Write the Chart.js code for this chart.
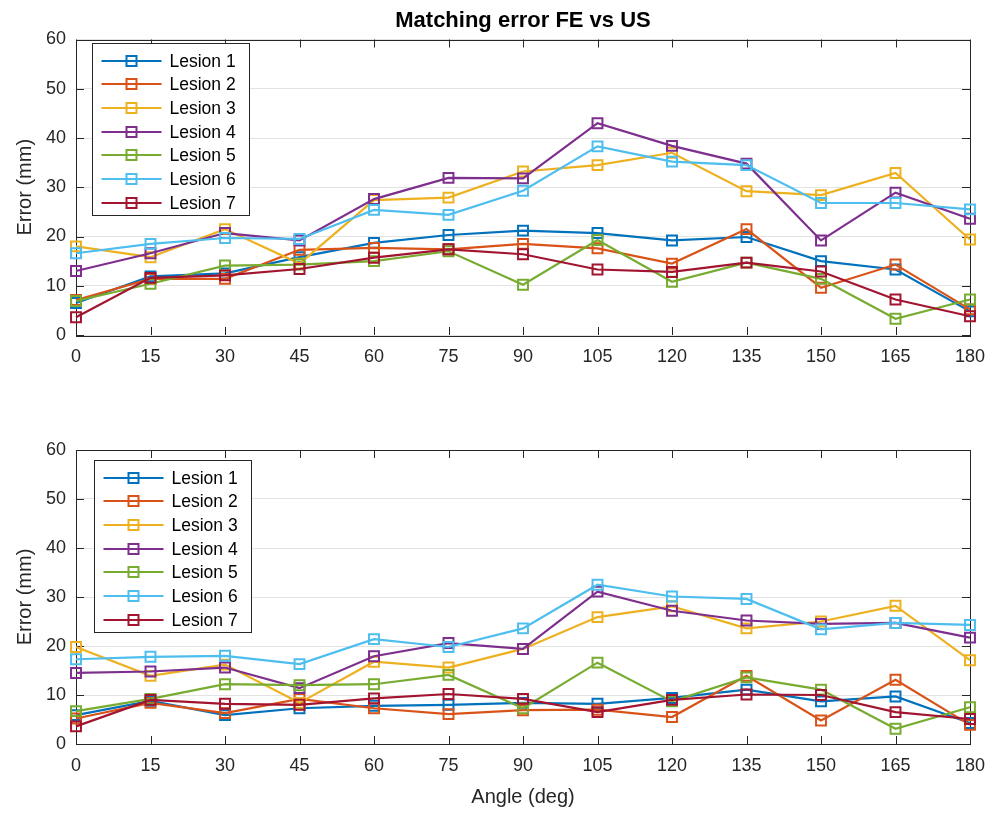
<!DOCTYPE html>
<html>
<head>
<meta charset="utf-8">
<script src="https://cdn.jsdelivr.net/npm/chart.js@4.4.0/dist/chart.umd.min.js"></script>
<style>
  html, body { margin: 0; padding: 0; background: #fff; }
  body { width: 1002px; height: 813px; position: relative; overflow: hidden; }
  .wrap { position: absolute; left: 0; width: 1002px; }
  #topWrap { top: 0; height: 380px; }
  #botWrap { top: 400px; height: 413px; }
</style>
</head>
<body>
<div class="wrap" id="topWrap"><canvas id="chartFE" width="1002" height="380"></canvas></div>
<div class="wrap" id="botWrap"><canvas id="chartUS" width="1002" height="413"></canvas></div>
<script>
// angles (deg)
const angles = [0, 15, 30, 45, 60, 75, 90, 105, 120, 135, 150, 165, 180];
const lesionNames = ['Lesion 1', 'Lesion 2', 'Lesion 3', 'Lesion 4', 'Lesion 5', 'Lesion 6', 'Lesion 7'];
const lesionColors = ['#0072BD', '#D95319', '#EDB120', '#7E2F8E', '#77AC30', '#4DBEEE', '#A2142F'];

// top panel: matching error FE vs US (mm)
const topL1 = [6.5, 11.9, 12.5, 15.8, 18.7, 20.3, 21.2, 20.7, 19.2, 19.9, 15.0, 13.3, 4.8];
const topL2 = [7.1, 11.4, 11.4, 17.3, 17.7, 17.4, 18.5, 17.6, 14.5, 21.5, 9.6, 14.3, 5.2];
const topL3 = [18.0, 15.8, 21.5, 14.5, 27.4, 27.9, 33.2, 34.5, 37.0, 29.2, 28.4, 32.9, 19.4];
const topL4 = [13.0, 16.6, 20.7, 19.2, 27.6, 31.9, 31.8, 43.0, 38.4, 34.8, 19.2, 28.9, 23.6];
const topL5 = [6.9, 10.4, 14.1, 14.3, 15.0, 17.0, 10.2, 19.3, 10.8, 14.7, 11.4, 3.3, 7.2];
const topL6 = [16.6, 18.5, 19.7, 19.5, 25.4, 24.4, 29.3, 38.3, 35.2, 34.5, 26.8, 26.8, 25.5];
const topL7 = [3.6, 11.6, 12.1, 13.4, 15.7, 17.4, 16.4, 13.3, 12.8, 14.7, 12.9, 7.2, 3.8];

// bottom panel (mm)
const botL1 = [5.9, 8.8, 5.9, 7.3, 7.8, 8.0, 8.4, 8.2, 9.4, 11.1, 8.7, 9.7, 4.3];
const botL2 = [5.2, 8.4, 6.3, 9.2, 7.3, 6.1, 6.9, 7.0, 5.5, 13.9, 4.8, 13.1, 3.9];
const botL3 = [19.8, 13.9, 16.2, 8.4, 16.8, 15.6, 19.4, 25.9, 28.1, 23.6, 25.0, 28.2, 17.1];
const botL4 = [14.5, 14.8, 15.6, 11.4, 17.9, 20.6, 19.4, 31.1, 27.2, 25.2, 24.5, 24.7, 21.7];
const botL5 = [6.7, 9.2, 12.2, 12.0, 12.2, 14.1, 7.3, 16.6, 8.7, 13.6, 11.1, 3.1, 7.5];
const botL6 = [17.3, 17.8, 18.0, 16.3, 21.4, 19.8, 23.6, 32.5, 30.1, 29.6, 23.4, 24.7, 24.3];
const botL7 = [3.6, 9.0, 8.2, 8.0, 9.3, 10.2, 9.2, 6.5, 9.0, 10.1, 10.0, 6.5, 5.1];

const yTicks = [0, 10, 20, 30, 40, 50, 60];

const FONT = '"Liberation Sans", Arial, Helvetica, sans-serif';
const INK = '#262626';

// box + inward tick marks, matlab style
const axesBox = {
  id: 'axesBox',
  beforeDatasetsDraw(chart) {
    const { ctx, chartArea: a, scales: { x, y } } = chart;
    ctx.save();
    ctx.strokeStyle = INK;
    ctx.lineWidth = 1;
    ctx.beginPath();
    x.ticks.forEach(t => {
      const px = Math.round(x.getPixelForValue(t.value)) + 0.5;
      ctx.moveTo(px, a.bottom); ctx.lineTo(px, a.bottom - 8);
      ctx.moveTo(px, a.top); ctx.lineTo(px, a.top + 8);
    });
    y.ticks.forEach(t => {
      const py = Math.round(y.getPixelForValue(t.value)) + 0.5;
      ctx.moveTo(a.left, py); ctx.lineTo(a.left + 8, py);
      ctx.moveTo(a.right, py); ctx.lineTo(a.right - 8, py);
    });
    ctx.stroke();
    ctx.strokeRect(Math.round(a.left) + 0.5, Math.round(a.top) + 0.5,
      Math.round(a.width), Math.round(a.height));
    ctx.restore();
  }
};

// title centred over the axes, not the canvas
const axesTitle = {
  id: 'axesTitle',
  afterDraw(chart, args, opts) {
    if (!opts.text) return;
    const { ctx, chartArea: a } = chart;
    ctx.save();
    ctx.font = 'bold 22px ' + FONT;
    ctx.fillStyle = '#000';
    ctx.textAlign = 'center';
    ctx.textBaseline = 'alphabetic';
    ctx.fillText(opts.text, (a.left + a.right) / 2, opts.baseline);
    ctx.restore();
  }
};

// legend box inside the axes (top-left)
const boxLegend = {
  id: 'boxLegend',
  afterDatasetsDraw(chart, args, opts) {
    const { ctx, chartArea: a } = chart;
    const x0 = Math.round(a.left + opts.dx) + 0.5;
    const y0 = Math.round(a.top + opts.dy) + 0.5;
    ctx.save();
    ctx.fillStyle = '#fff';
    ctx.fillRect(x0, y0, opts.w, opts.h);
    ctx.strokeStyle = INK;
    ctx.lineWidth = 1;
    ctx.strokeRect(x0, y0, opts.w, opts.h);
    ctx.font = '17.5px ' + FONT;
    ctx.textBaseline = 'middle';
    chart.data.datasets.forEach((ds, i) => {
      const cy = Math.round(y0 + opts.first + i * opts.step);
      ctx.strokeStyle = ds.borderColor;
      ctx.lineWidth = 2;
      ctx.beginPath();
      ctx.moveTo(x0 + 9, cy);
      ctx.lineTo(x0 + 69, cy);
      ctx.stroke();
      ctx.lineWidth = 2;
      ctx.strokeRect(x0 + 39 - 5, cy - 5, 10, 10);
      ctx.fillStyle = '#000';
      ctx.fillText(ds.label, x0 + 77, cy + 1);
    });
    ctx.restore();
  }
};

function makeDatasets(series) {
  return series.map((vals, i) => ({
    label: lesionNames[i],
    data: angles.map((a, k) => ({ x: a, y: vals[k] })),
    borderColor: lesionColors[i],
    backgroundColor: 'transparent',
    borderWidth: 2.2,
    pointStyle: 'rect',
    pointRadius: 7,
    pointBorderWidth: 2,
    pointBackgroundColor: 'transparent',
    pointBorderColor: lesionColors[i],
    tension: 0,
    clip: false,
    order: 10 - i
  }));
}

function makeOptions(cfg) {
  return {
    responsive: false,
    animation: false,
    layout: { padding: { left: 0, right: 32, top: cfg.padTop, bottom: 0 } },
    plugins: {
      legend: { display: false },
      tooltip: { enabled: false },
      title: { display: false },
      axesTitle: { text: cfg.title, baseline: 27 },
      boxLegend: cfg.legend
    },
    scales: {
      x: {
        type: 'linear',
        min: 0,
        max: 180,
        ticks: { stepSize: 15, color: INK, padding: 11, font: { family: FONT, size: 18 } },
        grid: { display: false, drawTicks: false },
        border: { display: false },
        title: cfg.xTitle ? {
          display: true,
          text: cfg.xTitle,
          color: INK,
          font: { family: FONT, size: 20 },
          padding: { top: 0, bottom: 4 }
        } : { display: false },
        afterFit(s) { s.height = cfg.xHeight; }
      },
      y: {
        min: 0,
        max: 60,
        afterBuildTicks(s) { s.ticks = yTicks.map(v => ({ value: v })); },
        ticks: { color: INK, padding: 10, font: { family: FONT, size: 18 } },
        grid: { color: '#e3e3e3', drawTicks: false },
        border: { display: false },
        title: {
          display: true,
          text: 'Error (mm)',
          color: INK,
          font: { family: FONT, size: 20 },
          padding: { top: 13, bottom: 0 }
        },
        afterFit(s) { s.width = 76; }
      }
    }
  };
}

new Chart(document.getElementById('chartFE'), {
  type: 'line',
  data: { datasets: makeDatasets([topL1, topL2, topL3, topL4, topL5, topL6, topL7]) },
  options: makeOptions({
    title: 'Matching error FE vs US',
    padTop: 39.5,
    xHeight: 45,
    legend: { dx: 16, dy: 3, w: 157, h: 172, first: 17, step: 23.7 }
  }),
  plugins: [axesBox, axesTitle, boxLegend]
});

new Chart(document.getElementById('chartUS'), {
  type: 'line',
  data: { datasets: makeDatasets([botL1, botL2, botL3, botL4, botL5, botL6, botL7]) },
  options: makeOptions({
    title: null,
    xTitle: 'Angle (deg)',
    padTop: 50,
    xHeight: 69,
    legend: { dx: 18, dy: 10, w: 157, h: 172, first: 17, step: 23.7 }
  }),
  plugins: [axesBox, axesTitle, boxLegend]
});
</script>
</body>
</html>
